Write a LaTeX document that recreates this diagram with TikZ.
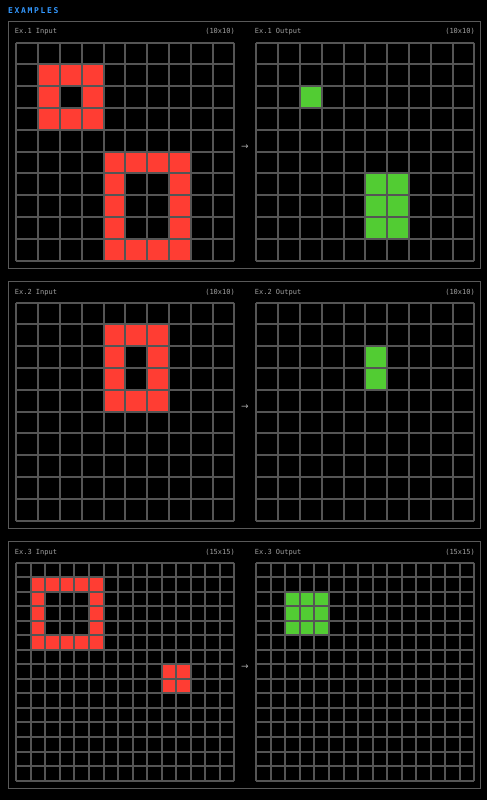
\documentclass[tikz,border=0pt]{standalone}
\usepackage{fontspec}
\newfontfamily\monofont{DejaVu Sans Mono}
\newfontfamily\titlefont{DejaVu Sans Mono}[LetterSpace=21]
\newfontfamily\arrowfont{DejaVu Sans}
\definecolor{gridc}{HTML}{555555}
\definecolor{panelc}{HTML}{595959}
\definecolor{cred}{HTML}{FF3D33}
\definecolor{cgreen}{HTML}{52CC33}
\definecolor{labelc}{HTML}{A0A0A0}
\definecolor{titlec}{HTML}{3399FF}
\definecolor{arrowc}{HTML}{A8A8A8}
\tikzset{
  gridline/.style={draw=gridc, line width=2pt},
  panelbox/.style={draw=panelc, line width=1pt},
  lbl/.style={font=\monofont\fontsize{7}{8}\selectfont, text=labelc, inner sep=0pt},
  ttl/.style={font=\titlefont\bfseries\fontsize{8}{9}\selectfont, text=titlec, inner sep=0pt, anchor=base west},
  arr/.style={font=\arrowfont\fontsize{9}{10}\selectfont, text=arrowc, inner sep=0pt}
}
% x0, y0, n, s
\newcommand\drawgrid[4]{%
  \foreach \i in {0,...,#3}{%
    \draw[gridline] ({#1+\i*#4},#2) -- ({#1+\i*#4},{#2+#3*#4});
    \draw[gridline] (#1,{#2+\i*#4}) -- ({#1+#3*#4},{#2+\i*#4});
  }}
% x0, y0, s, colour, list col/row
\newcommand\paintcells[5]{%
  \foreach \c/\r in {#5}{%
    \fill[#4] ({#1+\c*#3},{#2+\r*#3}) rectangle ({#1+(\c+1)*#3},{#2+(\r+1)*#3});
  }}
\begin{document}
\begin{tikzpicture}[x=1pt,y=-1pt]
\fill[black] (0,0) rectangle (487,800);
\useasboundingbox (0,0) rectangle (487,800);

\node[ttl] (title) at (8,14) {EXAMPLES};

% panels
\draw[panelbox] (8.5,21.5) rectangle (480.8,268.2);
\draw[panelbox] (8.5,281.7) rectangle (480.8,528.2);
\draw[panelbox] (8.5,541.8) rectangle (480.8,788.3);

% labels
\node[lbl, anchor=base west] (l1i) at (14.7,34) {Ex.1 Input};
\node[lbl, anchor=base east] (s1i) at (235,34) {(10x10)};
\node[lbl, anchor=base west] (l1o) at (254.7,34) {Ex.1 Output};
\node[lbl, anchor=base east] (s1o) at (475,34) {(10x10)};
\node[lbl, anchor=base west] (l2i) at (14.7,294.2) {Ex.2 Input};
\node[lbl, anchor=base east] (s2i) at (235,294.2) {(10x10)};
\node[lbl, anchor=base west] (l2o) at (254.7,294.2) {Ex.2 Output};
\node[lbl, anchor=base east] (s2o) at (475,294.2) {(10x10)};
\node[lbl, anchor=base west] (l3i) at (14.7,554.2) {Ex.3 Input};
\node[lbl, anchor=base east] (s3i) at (235,554.2) {(15x15)};
\node[lbl, anchor=base west] (l3o) at (254.7,554.2) {Ex.3 Output};
\node[lbl, anchor=base east] (s3o) at (475,554.2) {(15x15)};

% arrows
\node[arr] (a1) at (245,146.8) {→};
\node[arr] (a2) at (245,407.2) {→};
\node[arr] (a3) at (245,666.8) {→};

% Example 1 input
\paintcells{16.3}{42.6}{21.8}{cred}{1/1,2/1,3/1,1/2,3/2,1/3,2/3,3/3,
  4/5,5/5,6/5,7/5,4/6,7/6,4/7,7/7,4/8,7/8,4/9,5/9,6/9,7/9}
\drawgrid{16.3}{42.6}{10}{21.8}
% Example 1 output
\paintcells{256.3}{42.6}{21.8}{cgreen}{2/2,5/6,6/6,5/7,6/7,5/8,6/8}
\drawgrid{256.3}{42.6}{10}{21.8}

% Example 2 input
\paintcells{16.3}{302.6}{21.8}{cred}{4/1,5/1,6/1,4/2,6/2,4/3,6/3,4/4,5/4,6/4}
\drawgrid{16.3}{302.6}{10}{21.8}
% Example 2 output
\paintcells{256.3}{302.6}{21.8}{cgreen}{5/2,5/3}
\drawgrid{256.3}{302.6}{10}{21.8}

% Example 3 input
\paintcells{16.3}{562.6}{14.5333}{cred}{1/1,2/1,3/1,4/1,5/1,1/2,5/2,1/3,5/3,1/4,5/4,
  1/5,2/5,3/5,4/5,5/5,10/7,11/7,10/8,11/8}
\drawgrid{16.3}{562.6}{15}{14.5333}
% Example 3 output
\paintcells{256.3}{562.6}{14.5333}{cgreen}{2/2,3/2,4/2,2/3,3/3,4/3,2/4,3/4,4/4}
\drawgrid{256.3}{562.6}{15}{14.5333}
\end{tikzpicture}
\end{document}
